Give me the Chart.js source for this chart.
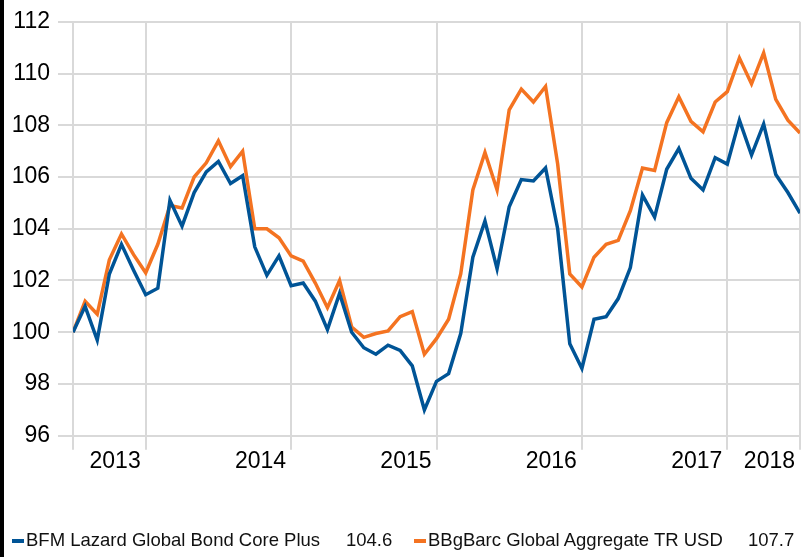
<!DOCTYPE html>
<html>
<head>
<meta charset="utf-8">
<script src="https://cdn.jsdelivr.net/npm/chart.js@4/dist/chart.umd.min.js"></script>
<style>
  html, body { margin: 0; padding: 0; background: #fff; }
  #wrap { position: relative; width: 806px; height: 557px; overflow: hidden; }
  #edge { position: absolute; left: 0; top: 0; width: 4px; height: 557px; background: #000; }
  .lg { position: absolute; font-family: 'Liberation Sans', Arial, sans-serif; font-size: 18.5px; line-height: 20px; color: #111; white-space: nowrap; }
  .mk { position: absolute; width: 12px; height: 4px; }
</style>
</head>
<body>
<div id="wrap">
  <canvas id="myChart" width="806" height="557"></canvas>
  <div id="edge"></div>
  <div class="mk" id="mk0" style="left:12px; top:539px;"></div>
  <div class="lg" id="lb0" style="left:26px; top:530px;"></div>
  <div class="lg" id="lv0" style="left:346px; top:530px;"></div>
  <div class="mk" id="mk1" style="left:414px; top:539px;"></div>
  <div class="lg" id="lb1" style="left:428px; top:530px;"></div>
  <div class="lg" id="lv1" style="left:748px; top:530px;"></div>
</div>
<script>
(function () {
'use strict';

// monthly points, end of month
var months = [
  '2013-06','2013-07','2013-08','2013-09','2013-10','2013-11','2013-12',
  '2014-01','2014-02','2014-03','2014-04','2014-05','2014-06','2014-07','2014-08','2014-09','2014-10','2014-11','2014-12',
  '2015-01','2015-02','2015-03','2015-04','2015-05','2015-06','2015-07','2015-08','2015-09','2015-10','2015-11','2015-12',
  '2016-01','2016-02','2016-03','2016-04','2016-05','2016-06','2016-07','2016-08','2016-09','2016-10','2016-11','2016-12',
  '2017-01','2017-02','2017-03','2017-04','2017-05','2017-06','2017-07','2017-08','2017-09','2017-10','2017-11','2017-12',
  '2018-01','2018-02','2018-03','2018-04','2018-05','2018-06'
];

var seriesNames = ['BFM Lazard Global Bond Core Plus', 'BBgBarc Global Aggregate TR USD'];
var seriesColors = ['#005496', '#f47321'];

var bfmLazard = [
  100.0, 101.0, 99.7, 102.25, 103.4, 102.4, 101.45,
  101.7, 105.1, 104.1, 105.4, 106.2, 106.6, 105.75, 106.05, 103.3, 102.2, 102.95, 101.8,
  101.9, 101.2, 100.1, 101.5, 100.0, 99.4, 99.15, 99.5, 99.3, 98.7, 97.0, 98.1,
  98.4, 99.95, 102.9, 104.3, 102.45, 104.85, 105.9, 105.85, 106.35, 104.0, 99.55, 98.6,
  100.5, 100.6, 101.3, 102.5, 105.3, 104.45, 106.3, 107.1, 105.95, 105.5, 106.75, 106.5,
  108.2, 106.85, 108.05, 106.1, 105.4, 104.6
];

var bbgBarc = [
  100.0, 101.2, 100.7, 102.8, 103.8, 103.0, 102.3,
  103.4, 104.9, 104.8, 106.0, 106.55, 107.4, 106.4, 107.0, 104.0, 104.0, 103.65, 102.95,
  102.75, 101.9, 100.95, 102.0, 100.2, 99.8, 99.95, 100.05, 100.6, 100.8, 99.15, 99.75,
  100.5, 102.25, 105.5, 106.95, 105.5, 108.6, 109.4, 108.9, 109.5, 106.5, 102.25, 101.75,
  102.9, 103.4, 103.55, 104.7, 106.35, 106.25, 108.1, 109.1, 108.15, 107.75, 108.9, 109.3,
  110.6, 109.6, 110.8, 109.0, 108.2, 107.7
];

var yTicks = [96, 98, 100, 102, 104, 106, 108, 110, 112];

// x gridlines: first point, every december, last point
var xTicks = [];
for (var i = 0; i < months.length; i++) {
  if (i === 0 || i === months.length - 1 || months[i].slice(5, 7) === '12') xTicks.push(i);
}
function xLabel(i) {
  if (i === 0) return '';
  return months[i].slice(0, 4);
}

function pts(arr) {
  var out = [];
  for (var i = 0; i < arr.length; i++) out.push({x: i, y: arr[i]});
  return out;
}

var FONT = "'Liberation Sans', Arial, sans-serif";
var GRID = '#d9d9d9';

var ctx = document.getElementById('myChart').getContext('2d');
var chart = new Chart(ctx, {
  type: 'line',
  data: {
    datasets: [{
      label: seriesNames[0],
      data: pts(bfmLazard),
      borderColor: seriesColors[0],
      backgroundColor: seriesColors[0],
      borderWidth: 3.5,
      pointRadius: 0,
      tension: 0
    }, {
      label: seriesNames[1],
      data: pts(bbgBarc),
      borderColor: seriesColors[1],
      backgroundColor: seriesColors[1],
      borderWidth: 3.5,
      pointRadius: 0,
      tension: 0
    }]
  },
  options: {
    responsive: false,
    animation: false,
    layout: { padding: { top: 20, right: 6, bottom: 0, left: 0 } },
    plugins: { legend: { display: false }, tooltip: { enabled: false } },
    scales: {
      x: {
        type: 'linear',
        min: 0,
        max: months.length - 1,
        afterBuildTicks: function (scale) {
          scale.ticks = xTicks.map(function (v) { return {value: v}; });
        },
        afterFit: function (scale) { scale.height = 121.3; },
        grid: { color: GRID, lineWidth: 2, tickLength: 14, tickColor: GRID },
        border: { display: false },
        ticks: {
          autoSkip: false,
          maxRotation: 0,
          minRotation: 0,
          align: 'end',
          labelOffset: -5,
          padding: -2,
          color: '#000',
          font: { family: FONT, size: 23 },
          callback: function (v) { return xLabel(v); }
        }
      },
      y: {
        min: yTicks[0],
        max: yTicks[yTicks.length - 1],
        afterBuildTicks: function (scale) {
          scale.ticks = yTicks.map(function (v) { return {value: v}; });
        },
        afterFit: function (scale) { scale.width = 73; },
        grid: { color: GRID, lineWidth: 2, tickLength: 15, tickColor: GRID },
        border: { display: false },
        ticks: {
          padding: 8,
          color: '#000',
          font: { family: FONT, size: 23 }
        }
      }
    }
  }
});

// legend with last values
var lastVals = [bfmLazard[bfmLazard.length - 1], bbgBarc[bbgBarc.length - 1]];
for (var k = 0; k < 2; k++) {
  document.getElementById('mk' + k).style.background = seriesColors[k];
  document.getElementById('lb' + k).textContent = seriesNames[k];
  document.getElementById('lv' + k).textContent = lastVals[k].toFixed(1);
}

})();
</script>
</body>
</html>
